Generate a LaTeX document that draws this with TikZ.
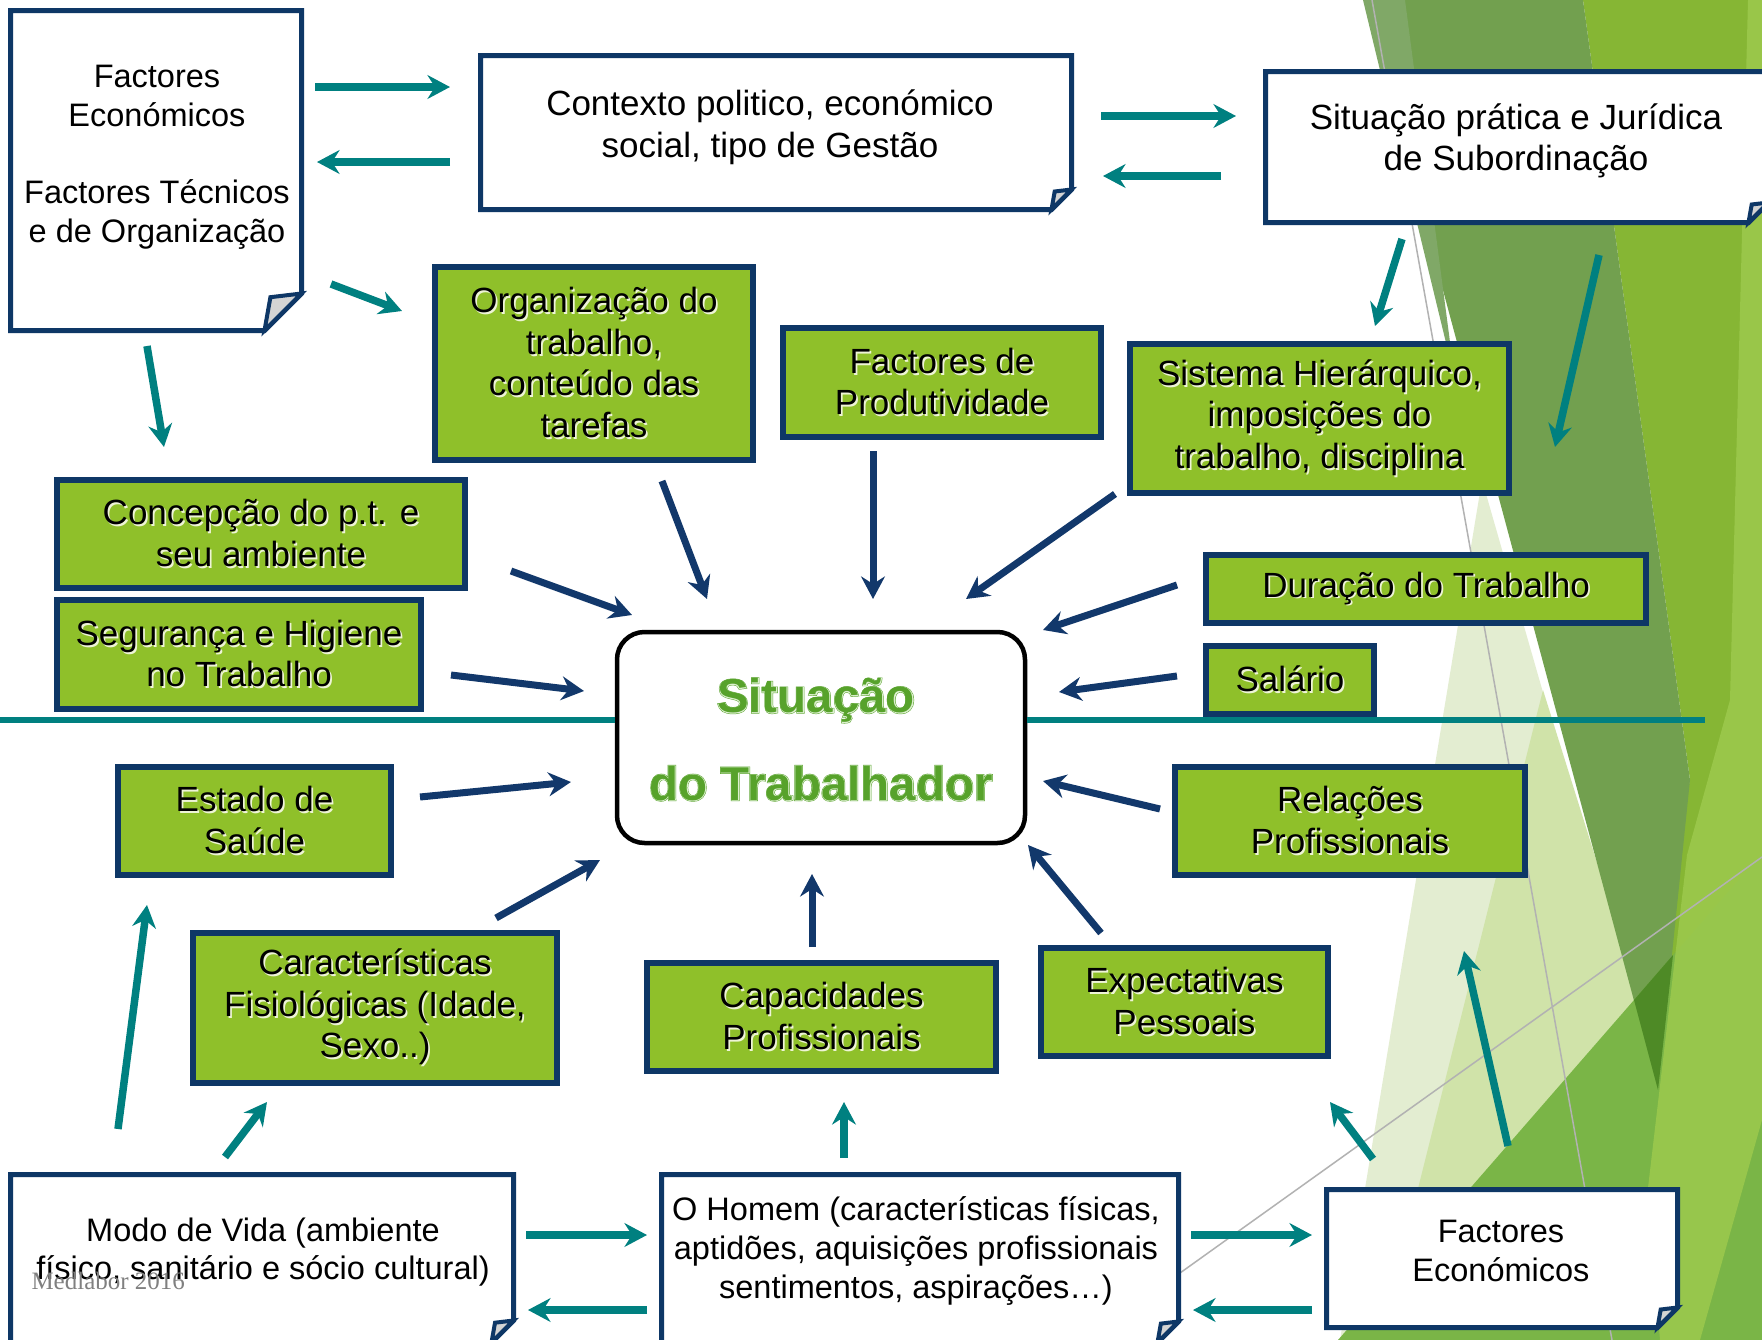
\documentclass[tikz,border=0pt]{standalone}
\usepackage{fontspec}
\setmainfont{Liberation Sans}
\newfontfamily\wmfont{Liberation Serif}
\newfontfamily\ctrout[FakeBold=4]{Liberation Sans Bold}
\newfontfamily\ctrmid[FakeBold=2]{Liberation Sans Bold}
\newfontfamily\ctrcore{Liberation Sans Bold}
\usetikzlibrary{arrows.meta,calc}

\definecolor{navyline}{HTML}{0E3766}
\definecolor{navyarrow}{HTML}{12386B}
\definecolor{tealarrow}{HTML}{008080}
\definecolor{boxgreen}{HTML}{8FC02A}
\definecolor{textshade}{HTML}{EEF4D6}
\definecolor{ctrgreen}{HTML}{57A22B}
\definecolor{ctrlight}{HTML}{DDF0CF}
\definecolor{foldgray}{HTML}{D4D4D4}
\definecolor{bgbright}{HTML}{86B634}
\definecolor{bgstrip}{HTML}{9DC94D}
\definecolor{bgpale}{HTML}{E3EDD1}
\definecolor{bgpaletwo}{HTML}{D0E3A9}
\definecolor{bgolive}{HTML}{72A04F}
\definecolor{bgolivelt}{HTML}{80A867}
\definecolor{bgmid}{HTML}{7AB547}
\definecolor{bgdark}{HTML}{4E8A26}

% light shade behind the text of the green boxes
\newcommand{\shd}[1]{\makebox[0pt][l]{\hspace{0.7pt}\raisebox{-0.7pt}{\textcolor{textshade}{#1}}}#1}
% outline of a page with a folded corner, drawn on the anchors of a node
\newcommand{\docshape}[2]{%
  \filldraw[docline] (#1.north west) -- (#1.north east) -- ($(#1.south east)+(0,-#2)$)
    -- ($(#1.south east)+(-#2,0)$) -- (#1.south west) -- cycle;
  \filldraw[foldline] ($(#1.south east)+(0,-#2)$) -- ($(#1.south east)+(-#2,0)$)
    -- ($(#1.south east)+(-0.84*#2,-0.9*#2)$) -- cycle;}
\newcommand{\ctrlines}{Situação\hspace*{4pt}\\do Trabalhador}

\tikzset{
  sz/.style 2 args={minimum width=#1*0.4pt, minimum height=#2*0.4pt},
  docbox/.style={rectangle, inner sep=0pt},
  docline/.style={draw=navyline, line width=2pt, fill=white, line join=miter},
  foldline/.style={draw=navyline, line width=1.6pt, fill=foldgray},
  doctext/.style={align=center, inner sep=0pt, font=\fontsize{13}{15.5}\selectfont},
  greenbox/.style={draw=navyline, line width=2.3pt, fill=boxgreen, inner sep=0pt,
    align=center, font=\fontsize{14}{16.6}\selectfont},
  ctrbox/.style={draw=black, line width=1.8pt, fill=white, rounded corners=11pt},
  ctrtitle/.style={align=center, inner sep=0pt},
  tealarr/.style={draw=tealarrow, line width=3pt, -{Stealth[length=9pt,width=9.5pt,inset=3pt]}},
  navyarr/.style={draw=navyarrow, line width=2.8pt, -{Stealth[length=9pt,width=9.5pt,inset=3pt]}},
  thinline/.style={draw=black!30, line width=0.6pt}
}

\begin{document}
\begin{tikzpicture}[x=0.4pt,y=-0.4pt]
\useasboundingbox (0,0) rectangle (1762,1340);
\fill[white] (0,0) rectangle (1762,1340);

% background facets
\fill[bgbright] (1583,0) -- (1762,0) -- (1762,1340) -- (1560,1340) -- (1690,780) -- cycle;
\fill[bgpale] (1482,480) -- (1660,1100) -- (1600,1340) -- (1340,1340) -- cycle;
\fill[bgpaletwo] (1543,690) -- (1640,1000) -- (1560,1340) -- (1380,1340) -- cycle;
\fill[bgolive] (1365,0) -- (1583,0) -- (1690,780) -- (1658,1090) -- cycle;
\fill[bgolivelt] (1363,0) -- (1405,0) -- (1455,380) -- cycle;
\fill[bgmid] (1338,1340) -- (1762,853) -- (1762,1340) -- cycle;
\fill[bgdark] (1634,1000) -- (1673,955) -- (1658,1090) -- cycle;
\fill[bgstrip, opacity=0.85] (1748,0) -- (1762,0) -- (1762,1120) -- (1700,1340) -- (1660,1340)
  -- (1648,1188) -- (1687,855) -- (1730,700) -- cycle;
\draw[thinline] (1372,0) -- (1612,1340);
\draw[thinline] (1180,1273) -- (1762,857);

% the dividing line
\coordinate (hl) at (0,720);
\coordinate (hr) at (1705,720);

% center
\node[ctrbox, sz={408}{211}] (ctr) at (821,737.5) {};
\draw[draw=tealarrow, line width=2.4pt] (hl) -- (hl -| ctr.west);
\draw[draw=tealarrow, line width=2.4pt] (hl -| ctr.east) -- (hr);
\node[ctrtitle, text=ctrgreen, font=\ctrout\fontsize{19}{35}\selectfont] (ttl1) at (821,739.5) {\ctrlines};
\node[ctrtitle, text=ctrlight, font=\ctrmid\fontsize{19}{35}\selectfont] (ttl2) at (821,739.5) {\ctrlines};
\node[ctrtitle, text=ctrgreen, font=\ctrcore\fontsize{19}{35}\selectfont] (ttl3) at (821,739.5) {\ctrlines};

% pages
\node[docbox, sz={290}{319}] (fe1) at (156,170.5) {};
\docshape{fe1}{37}
\node[doctext] (fe1t) at (157,157.5) {Factores\\Económicos\\[15.5pt]Factores Técnicos\\e de Organização};

\node[docbox, sz={590}{153}] (ctx) at (776,132.5) {};
\docshape{ctx}{20}
\node[doctext, font=\fontsize{14}{17}\selectfont] (ctxt) at (770,127) {Contexto politico, económico\\social, tipo de Gestão};

\node[docbox, sz={502}{150}] (sit) at (1517,147) {};
\docshape{sit}{20}
\node[doctext, font=\fontsize{14}{16.5}\selectfont] (sitt) at (1516,141) {Situação prática e Jurídica\\de Subordinação};

\node[docbox, sz={502}{167}] (mdv) at (262,1258.5) {};
\docshape{mdv}{22}
\node[doctext] (mdvt) at (263,1252) {Modo de Vida (ambiente\\físico, sanitário e sócio cultural)};

\node[docbox, sz={516}{167}] (hom) at (920,1258.5) {};
\docshape{hom}{21}
\node[doctext] (homt) at (916,1251) {O Homem (características físicas,\\aptidões, aquisições profissionais\\sentimentos, aspirações\dots)};

\node[docbox, sz={350}{137}] (fe2) at (1502,1258.5) {};
\docshape{fe2}{20}
\node[doctext] (fe2t) at (1501,1251) {Factores\\Económicos};

\node[font=\wmfont\fontsize{10}{12}\selectfont, text=black!50, anchor=west, inner sep=0pt] (wmk) at (31,1281) {Medlabor 2016};

% factors
\node[greenbox, sz={318}{193}] (org) at (594,363.5) {\shd{Organização do}\\\shd{trabalho,}\\\shd{conteúdo das}\\\shd{tarefas}};
\node[greenbox, sz={318}{109}] (prod) at (942,382.5) {\shd{Factores de}\\\shd{Produtividade}};
\node[greenbox, sz={379}{149}] (hier) at (1319.5,418.5) {\shd{Sistema Hierárquico,}\\\shd{imposições do}\\\shd{trabalho, disciplina}};
\node[greenbox, sz={408}{108}] (conc) at (261,534) {\shd{Concepção do p.t. e}\\\shd{seu ambiente}};
\node[greenbox, sz={364}{109}] (seg) at (239,654.5) {\shd{Segurança e Higiene}\\\shd{no Trabalho}};
\node[greenbox, sz={440}{68}] (dur) at (1426,589) {\shd{Duração do Trabalho}};
\node[greenbox, sz={168}{68}] (sal) at (1290,680) {\shd{Salário}};
\node[greenbox, sz={273}{108}] (est) at (254.5,821) {\shd{Estado de}\\\shd{Saúde}};
\node[greenbox, sz={350}{108}] (rel) at (1350,821) {\shd{Relações}\\\shd{Profissionais}};
\node[greenbox, sz={364}{150}] (fis) at (375,1008) {\shd{Características}\\\shd{Fisiológicas (Idade,}\\\shd{Sexo..)}};
\node[greenbox, sz={349}{108}] (cap) at (821.5,1017) {\shd{Capacidades}\\\shd{Profissionais}};
\node[greenbox, sz={287}{108}] (exp) at (1184.5,1002) {\shd{Expectativas}\\\shd{Pessoais}};

% arrow ends
\coordinate (ta1) at (315,87);    \coordinate (tb1) at (450,87);
\coordinate (ta2) at (450,162);   \coordinate (tb2) at (317,162);
\coordinate (ta3) at (1101,116);  \coordinate (tb3) at (1236,116);
\coordinate (ta4) at (1221,176);  \coordinate (tb4) at (1103,176);
\coordinate (ta5) at (331,284);   \coordinate (tb5) at (402,311);
\coordinate (ta6) at (147,346);   \coordinate (tb6) at (164,447);
\coordinate (ta7) at (1402,239);  \coordinate (tb7) at (1375,326);
\coordinate (ta8) at (1599,255);  \coordinate (tb8) at (1555,447);
\coordinate (ta9) at (526,1235);  \coordinate (tb9) at (647,1235);
\coordinate (ta10) at (647,1310); \coordinate (tb10) at (528,1310);
\coordinate (ta11) at (1191,1235); \coordinate (tb11) at (1312,1235);
\coordinate (ta12) at (1312,1310); \coordinate (tb12) at (1193,1310);
\coordinate (ta13) at (118,1129); \coordinate (tb13) at (147,905);
\coordinate (ta14) at (225,1157); \coordinate (tb14) at (267,1102);
\coordinate (ta15) at (844,1158); \coordinate (tb15) at (844,1102);
\coordinate (ta16) at (1373,1159); \coordinate (tb16) at (1330,1102);
\coordinate (ta17) at (1508,1146); \coordinate (tb17) at (1464,951);

\coordinate (na1) at (511,571);   \coordinate (nb1) at (632,615);
\coordinate (na2) at (662,481);   \coordinate (nb2) at (707,599);
\coordinate (na3) at (873,451);   \coordinate (nb3) at (873,599);
\coordinate (na4) at (1115,494);  \coordinate (nb4) at (966,599);
\coordinate (na5) at (1177,585);  \coordinate (nb5) at (1043,630);
\coordinate (na6) at (1177,676);  \coordinate (nb6) at (1059,692);
\coordinate (na7) at (451,675);   \coordinate (nb7) at (584,691);
\coordinate (na8) at (420,797);   \coordinate (nb8) at (571,782);
\coordinate (na9) at (1160,809);  \coordinate (nb9) at (1043,781);
\coordinate (na10) at (496,918);  \coordinate (nb10) at (600,860);
\coordinate (na11) at (812,947);  \coordinate (nb11) at (812,874);
\coordinate (na12) at (1101,933); \coordinate (nb12) at (1028,845);

\foreach \i in {1,...,17} \draw[tealarr] (ta\i) -- (tb\i);
\foreach \i in {1,...,12} \draw[navyarr] (na\i) -- (nb\i);

\end{tikzpicture}
\end{document}
